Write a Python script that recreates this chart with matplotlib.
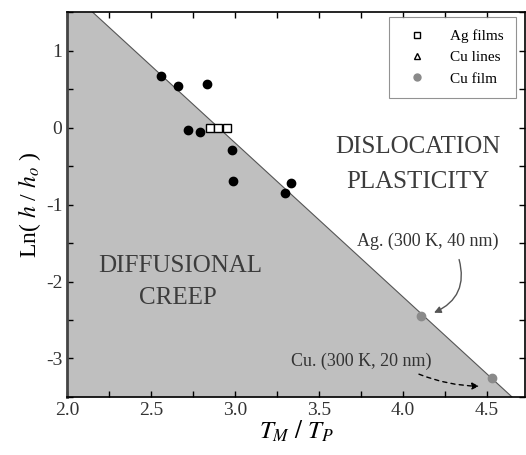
import matplotlib.pyplot as plt
from matplotlib.lines import Line2D
import numpy as np

# literature points (black dots, no legend entry)
lit_x = [2.56, 2.66, 2.83, 2.72, 2.79, 2.98, 2.99, 3.33, 3.30]
lit_y = [0.67, 0.54, 0.57, -0.03, -0.06, -0.29, -0.69, -0.72, -0.85]

ag_films_x = [2.85, 2.90, 2.95]
ag_films_y = [0.0, 0.0, 0.0]

cu_lines_x = []
cu_lines_y = []

cu_film_x = [4.11, 4.53]
cu_film_y = [-2.45, -3.25]

# regime boundary
border_x = [2.0, 2.15, 4.65]
border_y = [1.5, 1.5, -3.5]

plt.rcParams['font.family'] = ['Liberation Serif', 'DejaVu Serif']
plt.rcParams['mathtext.fontset'] = 'stix'
plt.rcParams['axes.unicode_minus'] = False

fig = plt.figure(figsize=(5.26, 4.55), dpi=100)
ax = fig.add_axes([0.128, 0.1275, 0.871, 0.846])

ax.fill_between(border_x, border_y, -3.5, color='#bfbfbf', lw=0, zorder=0)
ax.plot(border_x[1:], border_y[1:], color='#555555', lw=0.8, zorder=1)

ax.plot(lit_x, lit_y, 'o', color='black', ms=6, zorder=4)
ax.plot(ag_films_x, ag_films_y, 's', mfc='white', mec='black', ms=6, mew=1.0,
        zorder=4, label='Ag films')
ax.plot(cu_lines_x, cu_lines_y, '^', mfc='white', mec='black', ms=6,
        zorder=4, label='Cu lines')
ax.plot(cu_film_x, cu_film_y, 'o', color='#8a8a8a', ms=6, zorder=4,
        label='Cu film')

txt = dict(color='#3c3c3c', fontsize=18, ha='center', va='center')
ax.text(4.09, -0.25, 'DISLOCATION', **txt)
ax.text(4.09, -0.71, 'PLASTICITY', **txt)
ax.text(2.67, -1.80, 'DIFFUSIONAL', **txt)
ax.text(2.66, -2.21, 'CREEP', **txt)

ax.text(4.15, -1.48, 'Ag. (300 K, 40 nm)', fontsize=13, ha='center',
        va='center', color='#333333')
ax.text(3.75, -3.04, 'Cu. (300 K, 20 nm)', fontsize=13, ha='center',
        va='center', color='#333333')

ax.annotate('', xy=(4.17, -2.42), xytext=(4.33, -1.68),
            arrowprops=dict(arrowstyle='-|>', color='#555555', lw=1.0,
                            connectionstyle='arc3,rad=-0.45',
                            mutation_scale=10))
ax.annotate('', xy=(4.47, -3.36), xytext=(4.08, -3.19),
            arrowprops=dict(arrowstyle='-|>', color='black', lw=1.0,
                            ls=(0, (3, 3)), connectionstyle='arc3,rad=0.1',
                            mutation_scale=10))

ax.set_xlim(2.0, 4.73)
ax.set_ylim(-3.5, 1.5)
ax.set_xticks(np.arange(2.0, 4.51, 0.5))
ax.set_xticks(np.arange(2.25, 4.75, 0.5), minor=True)
ax.set_yticks([-3, -2, -1, 0, 1])
ax.set_yticks(np.arange(-3.5, 1.6, 0.5), minor=True)
ax.set_xticklabels(['2.0', '2.5', '3.0', '3.5', '4.0', '4.5'])
ax.tick_params(which='both', direction='in', top=True, right=True,
               labelsize=14, labelcolor='#333333', length=4, width=1)

for s in ['top', 'right', 'bottom']:
    ax.spines[s].set_linewidth(1.2)
ax.spines['left'].set_linewidth(2)
ax.spines['left'].set_color('#444444')

ax.set_xlabel(r'$T_M\ /\ T_P$', fontsize=18, labelpad=0)
ax.set_ylabel(r'Ln( $h$ / $h_o$ )', fontsize=17, labelpad=2)

handles = [
    Line2D([], [], ls='', marker='s', mfc='white', mec='black', ms=5),
    Line2D([], [], ls='', marker='^', mfc='white', mec='black', ms=5),
    Line2D([], [], ls='', marker='o', color='#8a8a8a', ms=5),
]
leg = ax.legend(handles, ['Ag films', 'Cu lines', 'Cu film'], loc='upper right',
                bbox_to_anchor=(0.98, 0.987), borderaxespad=0, fontsize=11,
                frameon=True, fancybox=False, edgecolor='#777777',
                labelspacing=0.5, handletextpad=1.2, borderpad=0.8)
leg.get_frame().set_linewidth(0.8)

fig.savefig('out.png', dpi=100)
